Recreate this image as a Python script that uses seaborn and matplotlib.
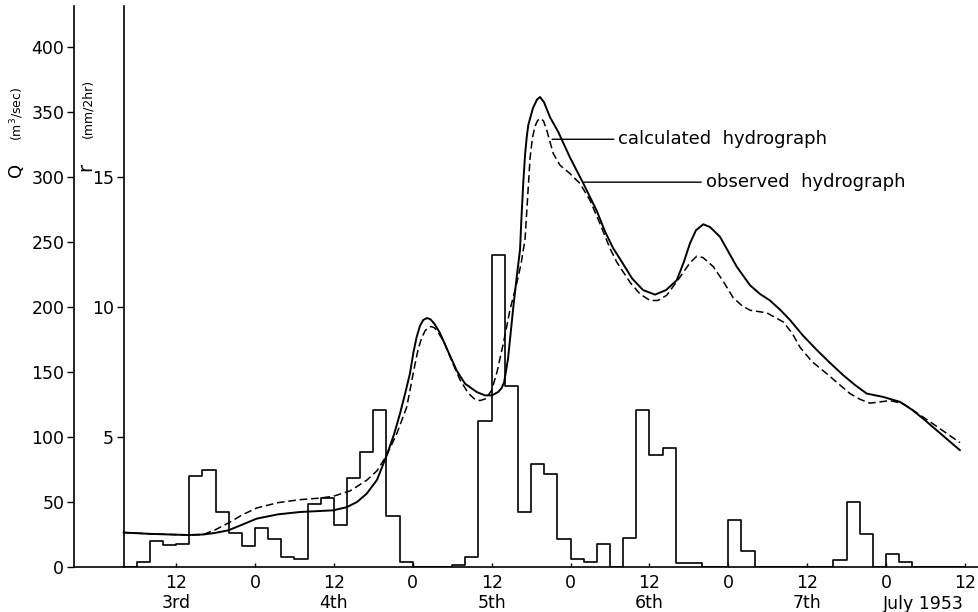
import numpy as np
import pandas as pd
import matplotlib
matplotlib.use("Agg")
import matplotlib.pyplot as plt
import seaborn as sns

# ---------------- data (hours from 0h, 3rd July 1953) ----------------
obs_hours = [4.0, 8.0, 11.1, 13.85, 16.13, 17.91, 19.94, 22.02, 24.26, 27.5, 30.84,
             35.91, 37.95, 39.52, 40.99, 42.56, 44.04, 45.15, 46.06, 46.82, 47.58,
             48.1, 48.6, 49.1, 49.6, 50.17, 50.7, 51.3, 52.14, 53.36, 54.69, 55.95,
             57.73, 58.99, 60.01, 60.97, 61.5, 61.9, 62.49, 63.3, 63.86, 64.32, 64.55,
             64.82, 65.1, 65.35, 65.58, 66.29, 66.9, 67.36, 67.97, 68.88, 70.14, 71.01,
             71.92, 73.95, 75.99, 77.25, 78.51, 79.53, 81.36, 83.03, 84.86, 86.53,
             88.16, 89.27, 90.18, 91.09, 92.2, 93.22, 94.74, 95.96, 97.29, 99.31,
             100.83, 102.35, 103.87, 105.39, 107.37, 109.46, 111.48, 113.5, 115.28,
             117.06, 119.59, 122.13, 123.95, 125.67, 128.21, 131.26]
obs_q = [26.5, 25.5, 25.0, 24.6, 25.0, 26.2, 28.2, 32.5, 37.2, 40.5, 42.3,
         43.6, 46.0, 50.0, 56.4, 67.0, 86.0, 102.0, 118.0, 133.0, 149.0,
         165.0, 177.0, 185.5, 190.0, 191.5, 190.5, 187.0, 180.0, 166.0, 151.0, 141.0,
         134.6, 132.0, 132.0, 134.5, 137.5, 142.0, 160.0, 200.0, 225.0, 244.0, 270.0,
         296.0, 318.0, 331.0, 340.0, 353.0, 359.5, 361.5, 357.5, 346.0, 334.6, 325.0,
         315.0, 295.0, 274.0, 258.0, 245.0, 237.0, 222.0, 213.0, 209.5, 213.0,
         220.5, 235.0, 249.0, 259.0, 263.6, 261.5, 254.0, 243.0, 231.0, 216.7,
         210.0, 205.0, 198.0, 190.0, 178.0, 167.0, 157.0, 147.5, 140.0,
         133.4, 130.8, 127.0, 121.0, 114.0, 103.0, 89.8]

calc_hours = [4.0, 8.0, 11.1, 13.85, 16.13, 17.91, 19.94, 22.02, 24.26, 27.5, 30.84,
              33.89, 35.91, 38.45, 40.99, 42.56, 44.04, 45.6, 47.08, 47.73, 48.34,
              48.8, 49.3, 49.86, 50.3, 50.78, 51.3, 51.8, 52.75, 53.97, 55.19, 56.41,
              57.32, 58.23, 59.14, 60.01, 60.82, 61.78, 62.8, 63.81, 64.47, 65.08,
              65.46, 65.84, 66.2, 66.6, 67.0, 67.47, 67.9, 68.38, 69.38, 70.4, 71.92,
              73.44, 74.97, 76.49, 78.01, 79.03, 81.05, 82.57, 84.1, 85.31, 86.64,
              88.66, 90.18, 91.2, 92.16, 93.73, 95.2, 96.77, 98.09, 99.31, 101.85,
              104.37, 105.7, 106.92, 108.74, 110.98, 114.52, 116.04, 117.56, 119.09,
              120.61, 122.63, 124.87, 127.19, 131.26]
calc_q = [26.5, 25.5, 25.0, 24.6, 25.0, 28.5, 33.8, 40.0, 45.4, 49.5, 51.8,
          53.0, 54.4, 58.5, 66.7, 74.0, 86.0, 103.0, 123.0, 140.0, 156.0,
          167.0, 175.5, 181.5, 184.0, 185.0, 184.0, 181.0, 173.0, 158.0, 144.0, 134.0,
          129.5, 128.0, 129.5, 136.0, 150.0, 172.0, 198.0, 218.0, 233.0, 252.0,
          283.0, 314.0, 330.0, 339.0, 343.5, 345.0, 343.0, 336.0, 318.0, 309.0, 302.6,
          295.0, 282.0, 264.0, 245.0, 234.6, 219.0, 210.0, 205.0, 205.0, 209.0,
          223.0, 234.0, 239.0, 238.0, 231.0, 220.0, 207.0, 201.0, 197.5, 195.5,
          188.5, 180.0, 169.0, 158.0, 148.7, 133.4, 129.0, 126.0, 127.0,
          128.0, 125.6, 118.0, 110.0, 95.6]

rain_start_hours = list(range(4, 132, 2))
rain_mm = [0.0, 0.18, 0.99, 0.83, 0.90, 3.50, 3.72, 2.12, 1.32, 0.81, 1.51, 1.09,
           0.40, 0.32, 2.41, 2.67, 1.62, 3.42, 4.42, 6.04, 1.95, 0.18, 0.0, 0.0,
           0.0, 0.08, 0.40, 5.62, 12.0, 6.96, 2.12, 3.97, 3.59, 1.09, 0.29, 0.19,
           0.90, 0.0, 1.12, 6.03, 4.30, 4.57, 0.16, 0.16, 0.0, 0.0, 1.79, 0.62,
           0.0, 0.0, 0.0, 0.0, 0.0, 0.0, 0.28, 2.50, 1.28, 0.0, 0.49, 0.19,
           0.0, 0.0, 0.0, 0.0]

tick_hours = [12, 24, 36, 48, 60, 72, 84, 96, 108, 120, 132]
tick_labels = ["12\n3rd", "0", "12\n4th", "0", "12\n5th", "0", "12\n6th", "0",
               "12\n7th", "0", "12"]
q_ticks = [0, 50, 100, 150, 200, 250, 300, 350, 400]
r_ticks = [5, 10, 15]

# ---------------- style ----------------
sns.set_style("ticks")
plt.rcParams['font.family'] = ['DejaVu Sans']
plt.rcParams['text.color'] = 'black'
plt.rcParams['xtick.color'] = 'black'
plt.rcParams['ytick.color'] = 'black'
plt.rcParams['axes.edgecolor'] = 'black'
plt.rcParams['axes.linewidth'] = 1.2
plt.rcParams['xtick.major.width'] = 1.0
plt.rcParams['ytick.major.width'] = 1.0

W, H = 979, 612
fig = plt.figure(figsize=(W / 100, H / 100), dpi=100)
fig.patch.set_facecolor("white")
ax = fig.add_axes([74 / W, 1 - 567 / H, (W - 74) / W, (567 - 6) / H])

Q_TOP = 431.5
ax.set_xlim(-3.54, 134.15)
ax.set_ylim(0, Q_TOP)

obs_df = pd.DataFrame({"t": obs_hours, "Q": obs_q})
calc_df = pd.DataFrame({"t": calc_hours, "Q": calc_q})
sns.lineplot(data=obs_df, x="t", y="Q", ax=ax, color="black", lw=1.4,
             estimator=None, sort=False)
sns.lineplot(data=calc_df, x="t", y="Q", ax=ax, color="black", lw=1.1,
             estimator=None, sort=False, linestyle=(0, (5, 2.5)))

# rainfall (mm / 2hr) on its own axis
ax2 = ax.twinx()
edges = rain_start_hours + [rain_start_hours[-1] + 2]
mids = [s + 1 for s in rain_start_hours]
sns.histplot(x=mids, weights=rain_mm, bins=edges, element="step", fill=False,
             color="black", linewidth=1.2, ax=ax2)
ax2.set_xlim(-3.54, 134.15)
ax2.set_ylim(0, Q_TOP / 20)

# axes cosmetics
for s in ["top", "right"]:
    ax.spines[s].set_visible(False)
for s in ["top", "right", "bottom"]:
    ax2.spines[s].set_visible(False)
ax2.spines["left"].set_visible(True)
ax2.spines["left"].set_position(("data", 4))
ax2.spines["left"].set_linewidth(1.2)
ax2.spines["left"].set_color("black")
ax2.yaxis.set_ticks_position("left")
ax2.yaxis.set_label_position("left")

ax.set_xticks(tick_hours)
ax.set_xticklabels(tick_labels, fontsize=12.5, linespacing=1.15)
ax.tick_params(axis="x", direction="in", length=3, pad=5, colors="black")
ax.set_yticks(q_ticks)
ax.set_yticklabels([str(v) for v in q_ticks], fontsize=12.5)
ax.tick_params(axis="y", direction="out", length=5, pad=2, colors="black")
ax2.set_yticks(r_ticks)
ax2.set_yticklabels([str(v) for v in r_ticks], fontsize=12.5)
ax2.tick_params(axis="y", direction="out", length=5, pad=2, colors="black")
ax.set_xlabel("")
ax.set_ylabel("")
ax2.set_xlabel("")
ax2.set_ylabel("")

# axis titles
fig.text(16 / W, 1 - 170 / H, "Q", rotation=90, fontsize=13, ha="center", va="center", color="black")
fig.text(17 / W, 1 - 114 / H, "(m$^3$/sec)", rotation=90, fontsize=9, ha="center", va="center", color="black")
fig.text(86 / W, 1 - 167 / H, "r", rotation=90, fontsize=14, ha="center", va="center", color="black")
fig.text(88 / W, 1 - 108 / H, "(mm/2hr)", rotation=90, fontsize=9, ha="center", va="center", color="black")
fig.text(923 / W, 1 - 604 / H, "July 1953", fontsize=12.5, ha="center", va="center", color="black")

# curve annotations
ax.annotate("calculated  hydrograph", xy=(69.2, 329), xytext=(79.3, 329),
            fontsize=13, ha="left", va="center", color="black",
            arrowprops=dict(arrowstyle="-", lw=1.0, color="black", shrinkA=1, shrinkB=0))
ax.annotate("observed  hydrograph", xy=(73.9, 296), xytext=(92.6, 296),
            fontsize=13, ha="left", va="center", color="black",
            arrowprops=dict(arrowstyle="-", lw=1.0, color="black", shrinkA=1, shrinkB=0))

fig.savefig("out.png", dpi=100, facecolor="white")
